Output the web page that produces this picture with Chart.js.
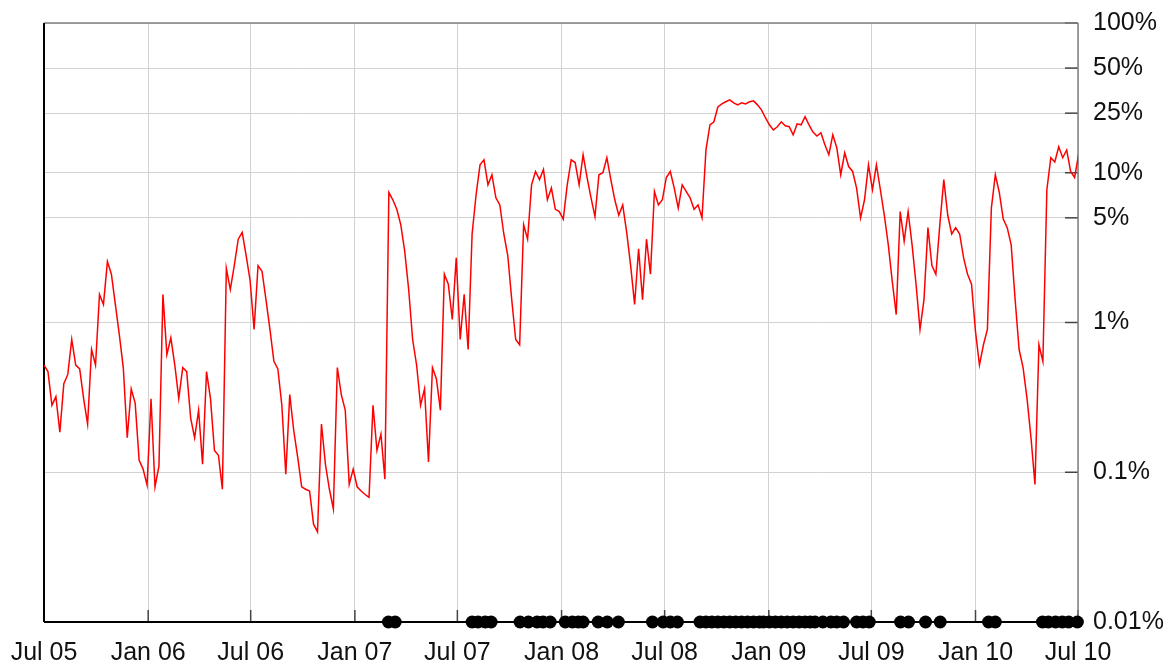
<!DOCTYPE html>
<html>
<head>
<meta charset="utf-8">
<script src="https://cdn.jsdelivr.net/npm/chart.js@4.4.1/dist/chart.umd.min.js"></script>
<style>
  html, body { margin: 0; padding: 0; background: #fff; }
  #wrap { width: 1167px; height: 666px; position: relative; }
</style>
</head>
<body>
<div id="wrap"><canvas id="riskChart"></canvas></div>
<script>
"use strict";

const START_DATE = "2005-07-01";
const WEEK_DAYS = 7;

const tickDates = [
  "2005-07-01", "2006-01-01", "2006-07-01", "2007-01-01", "2007-07-01", "2008-01-01",
  "2008-07-01", "2009-01-01", "2009-07-01", "2010-01-01", "2010-07-01",
];
const tickLabels = [
  "Jul 05", "Jan 06", "Jul 06", "Jan 07", "Jul 07", "Jan 08",
  "Jul 08", "Jan 09", "Jul 09", "Jan 10", "Jul 10",
];
const yTicks = [0.01, 0.1, 1, 5, 10, 25, 50, 100];

// one reading per week from 1 Jul 2005, in percent
const weeklyRisk = [
  0.52, 0.47, 0.28, 0.32, 0.185, 0.39, 0.45, 0.77, 0.52, 0.49,
  0.31, 0.21, 0.66, 0.52, 1.54, 1.32, 2.55, 2.1, 1.32, 0.83,
  0.50, 0.17, 0.36, 0.29, 0.12, 0.105, 0.082, 0.31, 0.08, 0.11,
  1.54, 0.61, 0.79, 0.52, 0.31, 0.50, 0.47, 0.23, 0.17, 0.26,
  0.113, 0.47, 0.31, 0.14, 0.13, 0.077, 2.3, 1.66, 2.4, 3.6,
  4.0, 2.8, 1.9, 0.90, 2.4, 2.2, 1.42, 0.90, 0.55, 0.49,
  0.28, 0.097, 0.33, 0.19, 0.126, 0.08, 0.077, 0.075, 0.045, 0.040,
  0.21, 0.113, 0.077, 0.057, 0.50, 0.33, 0.26, 0.083, 0.105, 0.08,
  0.075, 0.071, 0.068, 0.28, 0.14, 0.18, 0.090, 7.4, 6.6, 5.7,
  4.5, 3.0, 1.66, 0.77, 0.52, 0.28, 0.36, 0.117, 0.50, 0.42,
  0.26, 2.1, 1.8, 1.05, 2.7, 0.77, 1.54, 0.66, 3.9, 7.1,
  11.3, 12.2, 8.3, 9.7, 6.8, 6.1, 3.9, 2.8, 1.42, 0.77,
  0.71, 4.5, 3.6, 8.3, 10.2, 9.0, 10.5, 6.6, 7.9, 5.7,
  5.5, 4.9, 8.3, 12.2, 11.7, 8.3, 13.2, 9.3, 6.8, 5.1,
  9.7, 10.0, 12.6, 9.0, 6.6, 5.2, 6.1, 4.0, 2.4, 1.32,
  3.1, 1.42, 3.6, 2.1, 7.5, 6.1, 6.6, 9.3, 10.2, 7.9,
  5.8, 8.3, 7.5, 6.8, 5.7, 6.1, 5.0, 14.2, 20.9, 21.9,
  27.5, 28.8, 29.8, 30.7, 29.3, 28.4, 29.3, 28.8, 29.8, 30.2,
  28.4, 26.3, 23.3, 20.9, 19.3, 20.3, 21.9, 20.6, 20.3, 17.9,
  21.2, 20.9, 23.7, 20.9, 18.7, 17.6, 18.5, 15.4, 13.2, 17.9,
  14.7, 9.7, 13.6, 11.0, 10.2, 7.9, 5.0, 6.6, 11.3, 7.7,
  11.3, 7.7, 5.2, 3.3, 1.88, 1.13, 5.5, 3.5, 5.5, 3.3,
  1.8, 0.90, 1.42, 4.3, 2.4, 2.1, 4.5, 9.0, 5.2, 3.9,
  4.3, 3.9, 2.7, 2.1, 1.8, 0.87, 0.52, 0.71, 0.90, 5.8,
  9.7, 7.4, 4.9, 4.3, 3.3, 1.42, 0.66, 0.50, 0.31, 0.17,
  0.083, 0.71, 0.55, 7.7, 12.6, 11.8, 14.9, 12.6, 14.2, 10.2,
  9.3, 13.2,
];

// signal markers on the bottom axis, in weeks from 1 Jul 2005
const alertWeeks = [
  86.9, 88.6,
  108.0, 109.5, 111.3, 112.8,
  120.1, 122.2, 124.4, 125.9, 127.7,
  131.5, 133.3, 134.8, 136.0,
  139.8, 142.1, 144.9,
  153.5, 156.2, 158.0, 159.8,
  165.5, 167, 168.5, 170, 171.5, 173, 174.5, 176, 177.5, 179, 180.5, 181.5,
  183, 184.5, 186, 187.5, 189, 190.5, 192, 193.3,
  194.5, 196.5, 198.5, 200, 201.7,
  205, 206.6, 208.2,
  216.1, 218.1, 222.4, 226.1,
  238.3, 240.0,
  251.9, 253.4, 255.2, 256.9, 258.5, 260.7,
];

function dayOffset(dateStr) {
  return (Date.parse(dateStr) - Date.parse(START_DATE)) / 864e5;
}

const tickDays = tickDates.map(dayOffset);
const riskPoints = weeklyRisk.map((v, i) => ({ x: i * WEEK_DAYS, y: v }));
const alertPoints = alertWeeks.map((w) => ({ x: w * WEEK_DAYS, y: yTicks[0] }));

const FONT = { family: "'Liberation Sans', Arial, sans-serif", size: 25 };
const GRID = "#d2d2d2";

const framePlugin = {
  id: "frame",
  beforeDatasetsDraw(chart) {
    const { ctx, chartArea, scales } = chart;
    const { left, right, top, bottom } = chartArea;
    const seg = (x1, y1, x2, y2) => {
      ctx.beginPath();
      ctx.moveTo(x1, y1);
      ctx.lineTo(x2, y2);
      ctx.stroke();
    };
    ctx.save();
    ctx.lineWidth = 1.5;
    ctx.strokeStyle = "#444";
    tickDays.forEach((d) => {
      const px = scales.x.getPixelForValue(d);
      seg(px, bottom, px, bottom - 12);
    });
    yTicks.forEach((v) => {
      const py = scales.y.getPixelForValue(v);
      seg(right, py, right - 13, py);
    });
    ctx.strokeStyle = "#808080";
    seg(left, top, right, top);
    seg(right, top, right, bottom);
    ctx.strokeStyle = "#000";
    ctx.lineWidth = 2;
    seg(left, top, left, bottom);
    seg(left, bottom, right, bottom);
    ctx.restore();
  },
};

new Chart(document.getElementById("riskChart"), {
  type: "line",
  plugins: [framePlugin],
  data: {
    datasets: [
      {
        type: "scatter",
        data: alertPoints,
        pointRadius: 6.5,
        pointBackgroundColor: "#000",
        pointBorderWidth: 0,
        clip: false,
        order: 0,
      },
      {
        data: riskPoints,
        borderColor: "#ff0000",
        borderWidth: 1.5,
        pointRadius: 0,
        tension: 0,
        fill: false,
        order: 1,
      },
    ],
  },
  options: {
    responsive: true,
    maintainAspectRatio: false,
    animation: false,
    events: [],
    layout: { padding: { left: 44, top: 23, right: 0, bottom: 0 } },
    plugins: { legend: { display: false }, tooltip: { enabled: false } },
    scales: {
      x: {
        type: "linear",
        min: 0,
        max: 1826,
        afterBuildTicks: (scale) => {
          scale.ticks = tickDays.map((v) => ({ value: v }));
        },
        afterFit: (scale) => {
          scale.height = 44;
          scale.paddingLeft = 0;
          scale.paddingRight = 0;
        },
        grid: { color: GRID, lineWidth: 1, drawTicks: false },
        border: { display: false },
        ticks: {
          autoSkip: false,
          maxRotation: 0,
          padding: 16,
          color: "#111",
          font: FONT,
          callback: (v, i) => tickLabels[i],
        },
      },
      y: {
        type: "logarithmic",
        position: "right",
        min: 0.01,
        max: 100,
        afterBuildTicks: (scale) => {
          scale.ticks = yTicks.map((v) => ({ value: v }));
        },
        afterFit: (scale) => {
          scale.width = 89;
          scale.paddingTop = 0;
          scale.paddingBottom = 0;
        },
        grid: { color: GRID, lineWidth: 1, drawTicks: false },
        border: { display: false },
        ticks: {
          padding: 15,
          color: "#111",
          font: FONT,
          callback: (v) => v + "%",
        },
      },
    },
  },
});
</script>
</body>
</html>
